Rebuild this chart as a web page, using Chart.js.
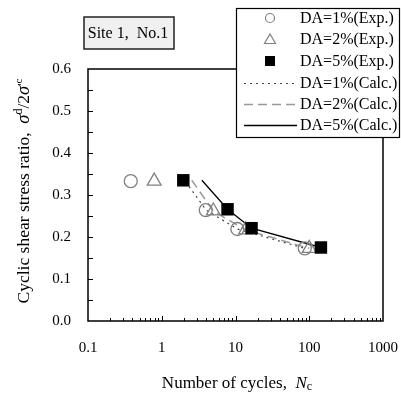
<!DOCTYPE html>
<html>
<head>
<meta charset="utf-8">
<script src="https://cdn.jsdelivr.net/npm/chart.js@4.4.0/dist/chart.umd.min.js"></script>
<style>
html, body { margin: 0; padding: 0; background: #fff; }
</style>
</head>
<body>
<canvas id="chart" width="401" height="395"></canvas>
<script>
// Experimental points (number of cycles, stress ratio)
const da1ExpN = [0.38, 3.95, 10.6, 87];
const da1ExpR = [0.333, 0.264, 0.219, 0.173];
const da2ExpN = [0.79, 5.0, 13.7, 100];
const da2ExpR = [0.333, 0.262, 0.217, 0.173];
const da5ExpN = [1.96, 7.8, 16.5, 144];
const da5ExpR = [0.335, 0.266, 0.221, 0.175];

// Calculated curves
const da1CalcN = [2.1, 4.0, 10.6, 87];
const da1CalcR = [0.332, 0.264, 0.219, 0.173];
const da2CalcN = [2.55, 5.0, 13.7, 100];
const da2CalcR = [0.335, 0.262, 0.217, 0.173];
const da5CalcN = [3.5, 7.8, 16.5, 144];
const da5CalcR = [0.335, 0.266, 0.221, 0.175];

const xTicks = [0.1, 1, 10, 100, 1000];
const legendLabels = ['DA=1%(Exp.)', 'DA=2%(Exp.)', 'DA=5%(Exp.)', 'DA=1%(Calc.)', 'DA=2%(Calc.)', 'DA=5%(Calc.)'];
const siteLabel = 'Site 1,  No.1';

const SERIF = '"Liberation Serif", "Times New Roman", serif';
const GRAY = '#808080';

function pts(xs, ys) {
    return xs.map((x, i) => ({ x: x, y: ys[i] }));
}

// frame, inward ticks, titles, site box and legend
const decorPlugin = {
    id: 'decor',
    afterDraw(chart) {
        const ctx = chart.ctx;
        const a = chart.chartArea;
        const xs = chart.scales.x;
        const ys = chart.scales.y;
        ctx.save();

        // frame
        ctx.strokeStyle = '#000';
        ctx.lineWidth = 1.5;
        ctx.strokeRect(a.left, a.top, a.right - a.left, a.bottom - a.top);

        // y ticks (inward)
        ctx.lineWidth = 1;
        for (let v = 0.05; v < 0.6; v += 0.05) {
            const py = Math.round(ys.getPixelForValue(v)) + 0.5;
            ctx.beginPath();
            ctx.moveTo(a.left, py);
            ctx.lineTo(a.left + 5, py);
            ctx.stroke();
        }
        // x ticks (inward)
        for (let d = 0.1; d < 1000; d *= 10) {
            for (let k = 1; k <= 10; k++) {
                const v = d * k;
                if (v <= 0.1 || v >= 1000) continue;
                const px = Math.round(xs.getPixelForValue(v)) + 0.5;
                const len = (k === 1 || k === 10) ? 5 : 3;
                ctx.beginPath();
                ctx.moveTo(px, a.bottom);
                ctx.lineTo(px, a.bottom - len);
                ctx.stroke();
            }
        }

        ctx.fillStyle = '#000';
        ctx.textBaseline = 'alphabetic';

        // x title
        const xParts = [
            { t: 'Number of cycles,  ', f: '17px ' + SERIF, dy: 0 },
            { t: 'N', f: 'italic 17px ' + SERIF, dy: 0 },
            { t: 'c', f: '12px ' + SERIF, dy: 2 }
        ];
        drawParts(ctx, xParts, 237, 388);

        // y title
        ctx.save();
        ctx.translate(29, 191);
        ctx.rotate(-Math.PI / 2);
        const yParts = [
            { t: 'Cyclic shear stress ratio,  ', f: '17.5px ' + SERIF, dy: 0 },
            { t: 'σ', f: 'italic 18.5px ' + SERIF, dy: 0 },
            { t: 'd', f: '12px ' + SERIF, dy: -7 },
            { t: '/2', f: '17.5px ' + SERIF, dy: 0 },
            { t: 'σ', f: 'italic 18.5px ' + SERIF, dy: 0 },
            { t: '\'', f: '13px ' + SERIF, dy: -3 },
            { t: 'c', f: '11px ' + SERIF, dy: -7 }
        ];
        drawParts(ctx, yParts, 0, 0);
        ctx.restore();

        // site box
        ctx.fillStyle = '#f0f0f0';
        ctx.fillRect(84, 17, 90, 32);
        ctx.strokeStyle = '#222';
        ctx.lineWidth = 1.5;
        ctx.strokeRect(84, 17, 90, 32);
        ctx.fillStyle = '#000';
        ctx.font = '16px ' + SERIF;
        ctx.textAlign = 'center';
        ctx.textBaseline = 'middle';
        ctx.fillText(siteLabel, 128, 34);

        // legend
        ctx.fillStyle = '#fff';
        ctx.fillRect(236, 8, 164, 130);
        ctx.strokeStyle = '#000';
        ctx.lineWidth = 1.2;
        ctx.strokeRect(236.5, 8.5, 163, 129);
        const rowY = [18, 39, 61, 83, 104, 125];
        const mx = 270;
        // circle
        ctx.strokeStyle = GRAY;
        ctx.lineWidth = 1.2;
        ctx.beginPath();
        ctx.arc(mx, rowY[0], 4.5, 0, Math.PI * 2);
        ctx.stroke();
        // triangle
        ctx.beginPath();
        ctx.moveTo(mx, rowY[1] - 5);
        ctx.lineTo(mx + 5.5, rowY[1] + 4.5);
        ctx.lineTo(mx - 5.5, rowY[1] + 4.5);
        ctx.closePath();
        ctx.stroke();
        // square
        ctx.fillStyle = '#000';
        ctx.fillRect(mx - 5, rowY[2] - 5, 10, 10);
        // lines
        const lineStyles = [
            { c: '#444', w: 1.2, dash: [2, 4] },
            { c: '#999', w: 1.5, dash: [9, 5] },
            { c: '#000', w: 1.3, dash: [] }
        ];
        lineStyles.forEach((s, i) => {
            ctx.strokeStyle = s.c;
            ctx.lineWidth = s.w;
            ctx.setLineDash(s.dash);
            ctx.beginPath();
            ctx.moveTo(244, rowY[3 + i] + 0.5);
            ctx.lineTo(297, rowY[3 + i] + 0.5);
            ctx.stroke();
        });
        ctx.setLineDash([]);
        ctx.fillStyle = '#000';
        ctx.font = '16px ' + SERIF;
        ctx.textAlign = 'left';
        ctx.textBaseline = 'middle';
        legendLabels.forEach((t, i) => ctx.fillText(t, 300, rowY[i] + 1));

        ctx.restore();
    }
};

function drawParts(ctx, parts, cx, baseY) {
    ctx.textAlign = 'left';
    let total = 0;
    parts.forEach(p => { ctx.font = p.f; total += ctx.measureText(p.t).width; });
    let x = cx - total / 2;
    parts.forEach(p => {
        ctx.font = p.f;
        ctx.fillText(p.t, x, baseY + p.dy);
        x += ctx.measureText(p.t).width;
    });
}

// keep the plot box fixed, labels may overhang
function fixPadding(s) {
    s.paddingLeft = 0;
    s.paddingRight = 0;
    s.paddingTop = 0;
    s.paddingBottom = 0;
}

const ctx = document.getElementById('chart').getContext('2d');
new Chart(ctx, {
    type: 'scatter',
    data: {
        datasets: [
            {
                label: legendLabels[0], data: pts(da1ExpN, da1ExpR),
                pointStyle: 'circle', pointRadius: 6.5, borderColor: GRAY, borderWidth: 1.3,
                backgroundColor: 'rgba(0,0,0,0)', order: 2
            },
            {
                label: legendLabels[1], data: pts(da2ExpN, da2ExpR),
                pointStyle: 'triangle', pointRadius: 8, borderColor: GRAY, borderWidth: 1.3,
                backgroundColor: 'rgba(0,0,0,0)', order: 1
            },
            {
                label: legendLabels[2], data: pts(da5ExpN, da5ExpR),
                pointStyle: 'rect', pointRadius: 8.8, borderColor: '#000', borderWidth: 0,
                backgroundColor: '#000', order: 0
            },
            {
                label: legendLabels[3], data: pts(da1CalcN, da1CalcR), showLine: true,
                pointRadius: 0, borderColor: '#444', borderWidth: 1.2, borderDash: [2, 4], order: 5
            },
            {
                label: legendLabels[4], data: pts(da2CalcN, da2CalcR), showLine: true,
                pointRadius: 0, borderColor: '#999', borderWidth: 1.5, borderDash: [9, 5], order: 4
            },
            {
                label: legendLabels[5], data: pts(da5CalcN, da5CalcR), showLine: true,
                pointRadius: 0, borderColor: '#000', borderWidth: 1.3, order: 3
            }
        ]
    },
    options: {
        responsive: false,
        animation: false,
        layout: { padding: { top: 69, right: 18, left: 0, bottom: 0 } },
        plugins: {
            legend: { display: false },
            tooltip: { enabled: false }
        },
        scales: {
            x: {
                type: 'logarithmic',
                min: 0.1,
                max: 1000,
                afterBuildTicks: s => { s.ticks = xTicks.map(v => ({ value: v })); },
                afterFit: s => { s.height = 74; fixPadding(s); },
                grid: { display: false, drawTicks: false },
                border: { display: false },
                ticks: {
                    callback: v => String(v),
                    color: '#000',
                    font: { family: SERIF, size: 15 },
                    padding: 18,
                    autoSkip: false,
                    maxRotation: 0
                }
            },
            y: {
                min: 0,
                max: 0.6,
                afterFit: s => { s.width = 88; fixPadding(s); },
                grid: { display: false, drawTicks: false },
                border: { display: false },
                ticks: {
                    stepSize: 0.1,
                    callback: v => v.toFixed(1),
                    color: '#000',
                    font: { family: SERIF, size: 15 },
                    padding: 17
                }
            }
        }
    },
    plugins: [decorPlugin]
});
</script>
</body>
</html>
